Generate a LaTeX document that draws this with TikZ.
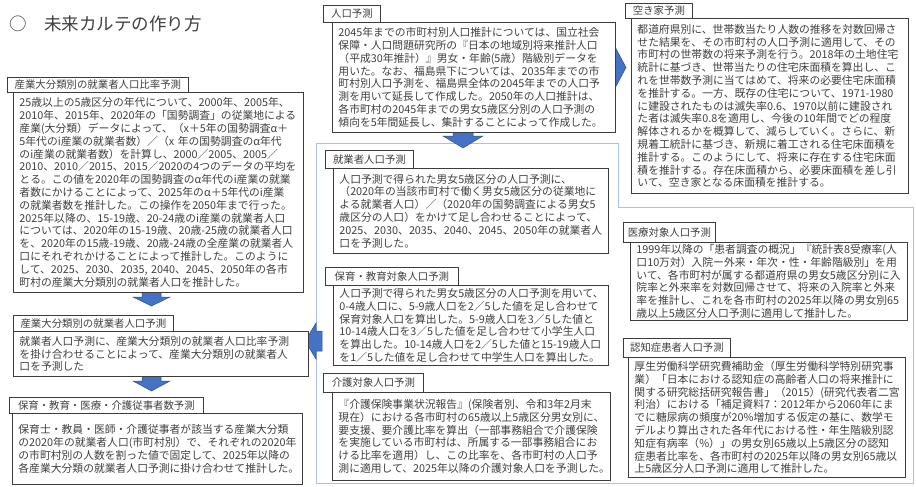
\documentclass[tikz,border=0pt]{standalone}
\usepackage{fontspec}
\setmainfont{Noto Sans CJK JP}
\definecolor{txt}{RGB}{64,64,64}
\definecolor{frm}{RGB}{60,60,60}
\definecolor{lb}{RGB}{170,192,230}
\definecolor{af}{RGB}{68,114,196}
\definecolor{ad}{RGB}{47,82,143}
\begin{document}
\begin{tikzpicture}[x=1pt,y=-1pt,
  body/.style={draw=frm, line width=0.9pt, fill=white, anchor=north west, inner xsep=6pt, inner ysep=2pt, align=left, text=txt, font=\fontsize{10.8pt}{12.8pt}\selectfont},
  head/.style={draw=frm, line width=0.8pt, fill=white, anchor=north west, inner sep=0pt, text=txt, font=\fontsize{10.4pt}{12pt}\selectfont},
  barrow/.style={fill=af, draw=ad, line width=0.5pt},
  frame/.style={draw=lb, line width=0.9pt}]
\useasboundingbox (0,0) rectangle (916,487);
\fill[white] (0,0) rectangle (916,487);

% title
\node[anchor=west, inner sep=0pt, text=txt, font=\fontsize{17.5pt}{20pt}\selectfont] (title) at (9,24) {○　未来カルテの作り方};

% light blue frame
\draw[frame] (316,143) -- (618,143) -- (618,207) -- (913,207) -- (913,483) -- (316,483) -- cycle;

% block arrows
\draw[barrow] (142,292) -- (161,292) -- (161,297) -- (170,297) -- (151.5,306) -- (133,297) -- (142,297) -- cycle;
\draw[barrow] (142,376) -- (161,376) -- (161,381) -- (170,381) -- (151.5,391) -- (133,381) -- (142,381) -- cycle;
\draw[barrow] (453,130) -- (473,130) -- (473,136) -- (483,136) -- (463,148) -- (443,136) -- (453,136) -- cycle;
\draw[barrow] (600,55) -- (613,55) -- (613,43) -- (626,67.5) -- (613,92) -- (613,80) -- (600,80) -- cycle;
\draw[barrow] (322,331) -- (316,331) -- (316,323) -- (305,341) -- (316,359) -- (316,351) -- (322,351) -- cycle;

% left column
\node[body, minimum width=290pt, minimum height=200pt, text width=278pt] (b1) at (13,92) {25歳以上の5歳区分の年代について、2000年、2005年、\\2010年、2015年、2020年の「国勢調査」の従業地による\\産業(大分類）データによって、（x＋5年の国勢調査α＋\\5年代のi産業の就業者数）／（x~年の国勢調査のα年代\\のi産業の就業者数）を計算し、2000／2005、2005／\\2010、2010／2015、2015／2020の4つのデータの平均を\\とる。この値を2020年の国勢調査のα年代のi産業の就業\\者数にかけることによって、2025年のα＋5年代のi産業\\の就業者数を推計した。この操作を2050年まで行った。\\2025年以降の、15-19歳、20-24歳のi産業の就業者人口\\については、2020年の15-19歳、20歳-25歳の就業者人口\\を、2020年の15歳-19歳、20歳-24歳の全産業の就業者人\\口にそれぞれかけることによって推計した。このように\\して、2025、2030、2035,~2040、2045、2050年の各市\\町村の産業大分類別の就業者人口を推計した。};
\node[head, minimum width=181pt, minimum height=15pt] (h1) at (7,77) {産業大分類別の就業者人口比率予測};

\node[body, minimum width=295pt, minimum height=45pt, text width=283pt] (b2) at (13,331) {就業者人口予測に、産業大分類別の就業者人口比率予測\\を掛け合わせることによって、産業大分類別の就業者人\\口を予測した};
\node[head, minimum width=160pt, minimum height=16pt] (h2) at (13,315) {産業大分類別の就業者人口予測};

\node[body, minimum width=290pt, minimum height=71pt, text width=278pt] (b3) at (12,413) {保育士・教員・医師・介護従事者が該当する産業大分類\\の2020年の就業者人口(市町村別）で、それぞれの2020年\\の市町村別の人数を割った値で固定して、2025年以降の\\各産業大分類の就業者人口予測に掛け合わせて推計した。};
\node[head, minimum width=194pt, minimum height=16pt] (h3) at (9,397) {保育・教育・医療・介護従事者数予測};

% middle column
\node[body, minimum width=283pt, minimum height=110pt, text width=271pt] (m1) at (332,22) {2045年までの市町村別人口推計については、国立社会\\保障・人口問題研究所の『日本の地域別将来推計人口\\（平成30年推計）』男女・年齢(5歳）階級別データを\\用いた。なお、福島県下については、2035年までの市\\町村別人口予測を、福島県全体の2045年までの人口予\\測を用いて延長して作成した。2050年の人口推計は、\\各市町村の2045年までの男女5歳区分別の人口予測の\\傾向を5年間延長し、集計することによって作成した。};
\node[head, minimum width=57pt, minimum height=17pt] (mh1) at (323,5) {人口予測};

\node[body, minimum width=275pt, minimum height=85pt, text width=263pt] (m2) at (333,168) {人口予測で得られた男女5歳区分の人口予測に、\\（2020年の当該市町村で働く男女5歳区分の従業地に\\よる就業者人口）／（2020年の国勢調査による男女5\\歳区分の人口）をかけて足し合わせることによって、\\2025、2030、2035、2040、2045、2050年の就業者人\\口を予測した。};
\node[head, minimum width=88pt, minimum height=18pt] (mh2) at (325,150) {就業者人口予測};

\node[body, minimum width=275pt, minimum height=80pt, text width=263pt] (m3) at (333,285) {人口予測で得られた男女5歳区分の人口予測を用いて、\\0-4歳人口に、5-9歳人口を2／5した値を足し合わせて\\保育対象人口を算出した。5-9歳人口を3／5した値と\\10-14歳人口を3／5した値を足し合わせて小学生人口\\を算出した。10-14歳人口を2／5した値と15-19歳人口\\を1／5した値を足し合わせて中学生人口を算出した。};
\node[head, minimum width=133pt, minimum height=18pt] (mh3) at (325,267) {保育・教育対象人口予測};

\node[body, minimum width=278pt, minimum height=88pt, text width=266pt] (m4) at (332,392) {『介護保険事業状況報告』(保険者別、令和3年2月末\\現在）における各市町村の65歳以上5歳区分男女別に、\\要支援、要介護比率を算出（一部事務組合で介護保険\\を実施している市町村は、所属する一部事務組合にお\\ける比率を適用）し、この比率を、各市町村の人口予\\測に適用して、2025年以降の介護対象人口を予測した。};
\node[head, minimum width=100pt, minimum height=19pt] (mh4) at (323,373) {介護対象人口予測};

% right column
\node[body, minimum width=277pt, minimum height=175pt, text width=265pt] (r1) at (631,18) {都道府県別に、世帯数当たり人数の推移を対数回帰さ\\せた結果を、その市町村の人口予測に適用して、その\\市町村の世帯数の将来予測を行う。2018年の土地住宅\\統計に基づき、世帯当たりの住宅床面積を算出し、こ\\れを世帯数予測に当てはめて、将来の必要住宅床面積\\を推計する。一方、既存の住宅について、1971-1980\\に建設されたものは滅失率0.6、1970以前に建設され\\た者は滅失率0.8を適用し、今後の10年間でどの程度\\解体されるかを概算して、減らしていく。さらに、新\\規着工統計に基づき、新規に着工される住宅床面積を\\推計する。このようにして、将来に存在する住宅床面\\積を推計する。存在床面積から、必要床面積を差し引\\いて、空き家となる床面積を推計する。};
\node[head, minimum width=67pt, minimum height=15pt] (rh1) at (625,3) {空き家予測};

\node[body, minimum width=277pt, minimum height=68pt, text width=265pt] (r2) at (630,242) {1999年以降の「患者調査の概況」『統計表8受療率(人\\口10万対）入院ー外来・年次・性・年齢階級別」を用\\いて、各市町村が属する都道府県の男女5歳区分別に入\\院率と外来率を対数回帰させて、将来の入院率と外来\\率を推計し、これを各市町村の2025年以降の男女別65\\歳以上5歳区分人口予測に適用して推計した。};
\node[head, minimum width=92pt, minimum height=20pt] (rh2) at (623,222) {医療対象人口予測};

\node[body, minimum width=277pt, minimum height=120pt, text width=265pt] (r3) at (628,357) {厚生労働科学研究費補助金（厚生労働科学特別研究事\\業）「日本における認知症の高齢者人口の将来推計に\\関する研究総括研究報告書」（2015）(研究代表者二宮\\利治）における「補足資料7：2012年から2060年にま\\でに糖尿病の頻度が20\%増加する仮定の基に、数学モ\\デルより算出された各年代における性・年生階級別認\\知症有病率（\%）」の男女別65歳以上5歳区分の認知\\症患者比率を、各市町村の2025年以降の男女別65歳以\\上5歳区分人口予測に適用して推計した。};
\node[head, minimum width=107pt, minimum height=19pt] (rh3) at (623,338) {認知症患者人口予測};
\end{tikzpicture}
\end{document}
